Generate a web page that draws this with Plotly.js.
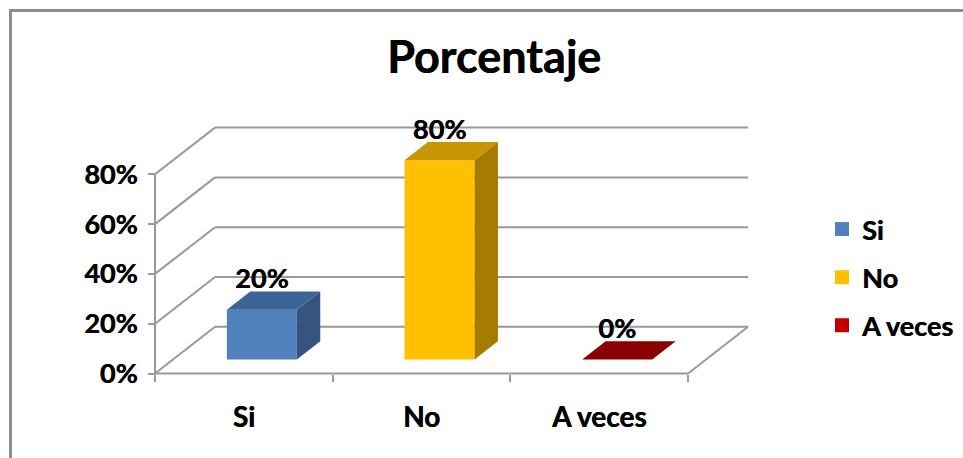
<!DOCTYPE html>
<html>
<head>
<meta charset="utf-8">
<script src="https://cdn.plot.ly/plotly-3.0.1.min.js"></script>
<style>
  html, body { margin: 0; padding: 0; background: #fff; }
  #chart { width: 963px; height: 458px; }
</style>
</head>
<body>
<div id="chart"></div>
<script>
// ---------- data ----------
const categories = ['Si', 'No', 'A veces'];
const values = [20, 80, 0];
const valueLabels = ['20%', '80%', '0%'];
const yTickVals = [0, 20, 40, 60, 80];
const yTickText = ['0%', '20%', '40%', '60%', '80%'];

// ---------- styles ----------
const frontColors = ['#4F81BD', '#FFC000', '#8B0000'];
const sideColors  = ['#34557F', '#A67C00', '#6E0000'];
const topColors   = ['#3D6496', '#C89600', '#8B0000'];
const legendColors = ['#4F81BD', '#FFC000', '#C00000'];
const FONT = 'Lato, "Open Sans", sans-serif';
const WEIGHT = 700;
const SHADOW = '0.5px 0 0 #000';
const GRID = '#999999';

// ---------- pixel geometry (oblique 3D projection) ----------
const W = 963, H = 458;
const X0 = 155, Y0 = 373.5;          // front-left floor corner (pixels)
const pxCat = 177.7, pxPct = 2.49;   // pixels per category / per percent
const DX = 60 / pxCat;               // full-depth shift, category units
const DY = 46.7 / pxPct;             // full-depth shift, percent units
const L = 140, R = 765, T = 110, B = 390;  // plot area (pixels)

const xr = [-0.5 - (X0 - L) / pxCat, -0.5 + (R - X0) / pxCat];
const yr = [-(B - Y0) / pxPct, (Y0 - T) / pxPct];

const P = (c, v, d) => [c + d * DX, v + d * DY];

const halfW = 0.197, dF = 0.30, dB = 0.69;
const xMin = -0.5, xMax = categories.length - 0.5;
const yTop = yTickVals[yTickVals.length - 1];

const traces = [];

// gridlines (side wall + back wall), floor edges, value axis line
const gx = [], gy = [];
function seg(a, b) { gx.push(a[0], b[0], null); gy.push(a[1], b[1], null); }
yTickVals.forEach(v => {
  seg(P(xMin, v, 0), P(xMin, v, 1));
  seg(P(xMin, v, 1), P(xMax, v, 1));
});
seg(P(xMin, 0, 0), P(xMax, 0, 0));
seg(P(xMax, 0, 0), P(xMax, 0, 1));
seg(P(xMin, 0, 0), P(xMin, yTop, 0));
traces.push({
  x: gx, y: gy, mode: 'lines', type: 'scatter',
  line: { color: GRID, width: 2 }, hoverinfo: 'skip', showlegend: false
});

function face(pts, color) {
  const x = pts.map(p => p[0]), y = pts.map(p => p[1]);
  x.push(x[0]); y.push(y[0]);
  traces.push({
    x, y, type: 'scatter', mode: 'lines', fill: 'toself',
    fillcolor: color, line: { width: 0, color: color },
    hoverinfo: 'skip', showlegend: false
  });
}

categories.forEach((cat, i) => {
  const v = values[i];
  const a = i - halfW, b = i + halfW;
  face([P(a, 0, dF), P(b, 0, dF), P(b, v, dF), P(a, v, dF)], frontColors[i]);
  face([P(b, 0, dF), P(b, 0, dB), P(b, v, dB), P(b, v, dF)], sideColors[i]);
  face([P(a, v, dF), P(b, v, dF), P(b, v, dB), P(a, v, dB)], topColors[i]);
});

// data labels (cap centre ~10px above the bar's back-top edge)
traces.push({
  x: categories.map((c, i) => i + dF * DX),
  y: values.map(v => v + dB * DY + 10 / pxPct),
  text: valueLabels, mode: 'text', type: 'scatter',
  textposition: 'middle center', cliponaxis: false,
  textfont: { family: FONT, size: 27, color: '#000', weight: WEIGHT, shadow: SHADOW },
  hoverinfo: 'skip', showlegend: false
});

// legend entries
categories.forEach((cat, i) => {
  traces.push({
    x: [null], y: [null], type: 'scatter', mode: 'markers', name: cat,
    legendgroup: cat,
    marker: { symbol: 'square', size: 14, color: legendColors[i] }
  });
});

const pw = R - L, ph = B - T;
const layout = {
  width: W, height: H,
  margin: { l: L, r: W - R, t: T, b: H - B, pad: 0, autoexpand: false },
  paper_bgcolor: '#fff', plot_bgcolor: 'rgba(0,0,0,0)',
  title: {
    text: 'Porcentaje',
    font: { family: FONT, size: 45, color: '#000', weight: WEIGHT, shadow: SHADOW },
    x: 494 / W, xanchor: 'center', xref: 'container',
    y: 1 - 57 / H, yanchor: 'middle', yref: 'container'
  },
  xaxis: {
    range: xr, anchor: 'free', position: (B - Y0) / ph,
    showgrid: false, zeroline: false, showline: false,
    tickmode: 'array', tickvals: categories.map((c, i) => i), ticktext: categories,
    ticks: '', ticklabelstandoff: 24,
    tickfont: { family: FONT, size: 28, color: '#000', weight: WEIGHT, shadow: SHADOW },
    minor: {
      tickmode: 'array', tickvals: [-0.5, 0.5, 1.5, 2.5],
      ticks: 'outside', ticklen: 7, tickwidth: 2, tickcolor: GRID, showgrid: false
    },
    fixedrange: true
  },
  yaxis: {
    range: yr, anchor: 'free', position: (X0 - L) / pw,
    showgrid: false, zeroline: false, showline: false,
    tickmode: 'array', tickvals: yTickVals, ticktext: yTickText,
    ticks: 'outside', ticklen: 7, tickwidth: 2, tickcolor: GRID,
    ticklabelstandoff: 5,
    tickfont: { family: FONT, size: 27, color: '#000', weight: WEIGHT, shadow: SHADOW },
    fixedrange: true
  },
  legend: {
    x: (822 - L) / pw, xanchor: 'left',
    y: (B - 205) / ph, yanchor: 'top',
    font: { family: FONT, size: 27, color: '#000', weight: WEIGHT, shadow: SHADOW },
    traceorder: 'grouped', tracegroupgap: 10,
    bgcolor: 'rgba(0,0,0,0)'
  },
  shapes: [
    { type: 'line', xref: 'paper', yref: 'paper',
      x0: (10.5 - L) / pw, x1: (W + 5 - L) / pw,
      y0: (B - 10.5) / ph, y1: (B - 10.5) / ph,
      line: { color: '#8c8c8c', width: 3 } },
    { type: 'line', xref: 'paper', yref: 'paper',
      x0: (10.5 - L) / pw, x1: (10.5 - L) / pw,
      y0: (B - 9) / ph, y1: (B - H - 5) / ph,
      line: { color: '#8c8c8c', width: 3 } }
  ],
  hovermode: false,
  showlegend: true
};

Plotly.newPlot('chart', traces, layout, { displayModeBar: false, staticPlot: true });
</script>
</body>
</html>
